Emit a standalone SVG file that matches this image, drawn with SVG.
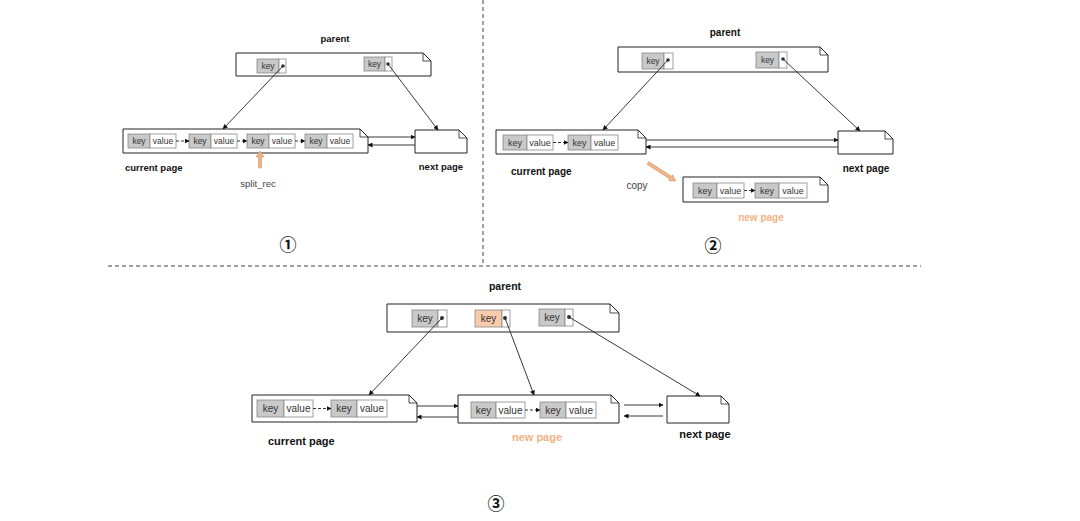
<svg xmlns="http://www.w3.org/2000/svg" width="1080" height="521" viewBox="0 0 1080 521">
<defs>
<marker id="ah" viewBox="0 0 10 10" refX="9" refY="5" markerWidth="5" markerHeight="5" markerUnits="userSpaceOnUse" orient="auto"><path d="M0,0 L10,5 L0,10 Z" fill="#111"/></marker>
<style>
.pg{fill:#fff;stroke:#222;stroke-width:1}
.fold{fill:none;stroke:#222;stroke-width:0.8}
.k{fill:#c9c9c9;stroke:#888;stroke-width:0.8}
.ko{fill:#f8cbad;stroke:#888;stroke-width:0.8}
.v{fill:#fff;stroke:#888;stroke-width:0.8}
.t{font-family:"Liberation Sans",Arial,sans-serif;fill:#333;text-anchor:middle;dominant-baseline:central}
.b{font-family:"Liberation Sans",Arial,sans-serif;font-weight:bold;fill:#111;dominant-baseline:central}
.orange{fill:#f4b183}
.gray{fill:#444}
.c{stroke:#222;stroke-width:0.9;fill:none;marker-end:url(#ah)}
.d{stroke:#222;stroke-width:0.9;fill:none;stroke-dasharray:3,2;marker-end:url(#ah)}
.dot{fill:#333}
.sep{stroke:#444;stroke-width:1;stroke-dasharray:4,3;fill:none}
.or{fill:#f4b183;stroke:#c99a78;stroke-width:0.6}
.num{font-family:"Noto Sans CJK SC","DejaVu Sans",sans-serif;font-size:17px;font-weight:bold;fill:#111;text-anchor:middle;dominant-baseline:central}
</style>
</defs>
<rect width="1080" height="521" fill="#fff"/>
<path class="sep" d="M483,0 V266"/>
<path class="sep" d="M108,266 H921"/>

<!-- Panel 1 -->
<g id="p1-parent">
<path class="pg" d="M236,53 H423 L431,61 V76 H236 Z"/><path class="fold" d="M423,53 V61 H431"/>
<rect class="k" x="257" y="59" width="22" height="14"/><rect class="v" x="279" y="59" width="7" height="14"/>
<text class="t" x="268" y="66" font-size="8.5">key</text><circle class="dot" cx="283" cy="66" r="1.8"/>
<rect class="k" x="364" y="57" width="21" height="14"/><rect class="v" x="385" y="57" width="7" height="14"/>
<text class="t" x="374.5" y="64" font-size="8.5">key</text><circle class="dot" cx="388" cy="64" r="1.8"/>
<text class="b" x="335" y="38" font-size="9.5" text-anchor="middle">parent</text>
</g>
<g id="p1-current">
<path class="pg" d="M123,129 H360 L368,137 V153 H123 Z"/><path class="fold" d="M360,129 V137 H368"/>
<rect class="k" x="128" y="134" width="22" height="14"/><rect class="v" x="150" y="134" width="26" height="14"/>
<text class="t" x="139" y="141" font-size="8.5">key</text><text class="t" x="163" y="141" font-size="8.5">value</text>
<rect class="k" x="189" y="134" width="22" height="14"/><rect class="v" x="211" y="134" width="26" height="14"/>
<text class="t" x="200" y="141" font-size="8.5">key</text><text class="t" x="224" y="141" font-size="8.5">value</text>
<rect class="k" x="247" y="134" width="22" height="14"/><rect class="v" x="269" y="134" width="26" height="14"/>
<text class="t" x="258" y="141" font-size="8.5">key</text><text class="t" x="282" y="141" font-size="8.5">value</text>
<rect class="k" x="305" y="134" width="22" height="14"/><rect class="v" x="327" y="134" width="26" height="14"/>
<text class="t" x="316" y="141" font-size="8.5">key</text><text class="t" x="340" y="141" font-size="8.5">value</text>
<text class="b" x="125" y="167" font-size="9.5">current page</text>
</g>
<g id="p1-next">
<path class="pg" d="M415,130 H459 L467,138 V153 H415 Z"/><path class="fold" d="M459,130 V138 H467"/>
<text class="b" x="441" y="166" font-size="9.5" text-anchor="middle">next page</text>
</g>
<g id="p1-split">
<path class="or" d="M258.5,168 V157 H256 L260,151 L264,157 H261.5 V168 Z"/>
<text class="t gray" x="258" y="183" font-size="9.5">split_rec</text>
</g>
<text class="num" x="288" y="243">①</text>

<!-- Panel 2 -->
<g id="p2-parent">
<path class="pg" d="M618,47 H820 L828,55 V72 H618 Z"/><path class="fold" d="M820,47 V55 H828"/>
<rect class="k" x="642" y="53" width="22" height="16"/><rect class="v" x="664" y="53" width="9" height="16"/>
<text class="t" x="653" y="61" font-size="8.5">key</text><circle class="dot" cx="668" cy="60" r="1.8"/>
<rect class="k" x="756" y="52" width="23" height="16"/><rect class="v" x="779" y="52" width="8" height="16"/>
<text class="t" x="767.5" y="60" font-size="8.5">key</text><circle class="dot" cx="783" cy="59" r="1.8"/>
<text class="b" x="725" y="32" font-size="10" text-anchor="middle">parent</text>
</g>
<g id="p2-current">
<path class="pg" d="M496,130 H638 L646,138 V154 H496 Z"/><path class="fold" d="M638,130 V138 H646"/>
<rect class="k" x="503" y="135" width="24" height="15"/><rect class="v" x="527" y="135" width="26" height="15"/>
<text class="t" x="515" y="142.5" font-size="9">key</text><text class="t" x="540" y="142.5" font-size="9">value</text>
<rect class="k" x="568" y="135" width="23" height="15"/><rect class="v" x="591" y="135" width="27" height="15"/>
<text class="t" x="579.5" y="142.5" font-size="9">key</text><text class="t" x="604.5" y="142.5" font-size="9">value</text>
<text class="b" x="511" y="171" font-size="10">current page</text>
</g>
<g id="p2-next">
<path class="pg" d="M838,131 H885 L893,139 V154 H838 Z"/><path class="fold" d="M885,131 V139 H893"/>
<text class="b" x="866" y="168" font-size="10" text-anchor="middle">next page</text>
</g>
<g id="p2-new">
<path class="pg" d="M683,177 H820 L828,185 V202 H683 Z"/><path class="fold" d="M820,177 V185 H828"/>
<rect class="k" x="693" y="183" width="24" height="15"/><rect class="v" x="717" y="183" width="27" height="15"/>
<text class="t" x="705" y="190.5" font-size="9">key</text><text class="t" x="730.5" y="190.5" font-size="9">value</text>
<rect class="k" x="755" y="183" width="24" height="15"/><rect class="v" x="779" y="183" width="28" height="15"/>
<text class="t" x="767" y="190.5" font-size="9">key</text><text class="t" x="793" y="190.5" font-size="9">value</text>
<text class="b orange" x="761" y="217" font-size="10" text-anchor="middle">new page</text>
</g>
<g id="p2-copy">
<path class="or" transform="translate(648,163) rotate(33)" d="M0,-1.6 H27 V-3.5 L33,0 L27,3.5 V1.6 H0 Z"/>
<text class="t gray" x="637" y="185" font-size="10">copy</text>
</g>
<text class="num" x="713" y="244">②</text>

<!-- Panel 3 -->
<g id="p3-parent">
<path class="pg" d="M387,304 H610 L619,313 V332 H387 Z"/><path class="fold" d="M610,304 V313 H619"/>
<rect class="k" x="412" y="310" width="26" height="17"/><rect class="v" x="438" y="310" width="9" height="17"/>
<text class="t" x="425" y="318.5" font-size="10">key</text><circle class="dot" cx="442" cy="318" r="2"/>
<rect class="ko" x="475" y="310" width="27" height="17"/><rect class="v" x="502" y="310" width="8" height="17"/>
<text class="t" x="488.5" y="318.5" font-size="10">key</text><circle class="dot" cx="505" cy="318" r="2"/>
<rect class="k" x="539" y="309" width="26" height="17"/><rect class="v" x="565" y="309" width="8" height="17"/>
<text class="t" x="552" y="317.5" font-size="10">key</text><circle class="dot" cx="569" cy="317" r="2"/>
<text class="b" x="505" y="286" font-size="10.5" text-anchor="middle">parent</text>
</g>
<g id="p3-current">
<path class="pg" d="M252,395 H409 L417,403 V422 H252 Z"/><path class="fold" d="M409,395 V403 H417"/>
<rect class="k" x="257" y="400" width="27" height="17"/><rect class="v" x="284" y="400" width="29" height="17"/>
<text class="t" x="270.5" y="408.5" font-size="10">key</text><text class="t" x="298.5" y="408.5" font-size="10">value</text>
<rect class="k" x="331" y="400" width="26" height="17"/><rect class="v" x="357" y="400" width="30" height="17"/>
<text class="t" x="344" y="408.5" font-size="10">key</text><text class="t" x="372" y="408.5" font-size="10">value</text>
<text class="b" x="268" y="441" font-size="11">current page</text>
</g>
<g id="p3-new">
<path class="pg" d="M458,395 H611 L619,403 V423 H458 Z"/><path class="fold" d="M611,395 V403 H619"/>
<rect class="k" x="471" y="402" width="25" height="16"/><rect class="v" x="496" y="402" width="29" height="16"/>
<text class="t" x="483.5" y="410" font-size="10">key</text><text class="t" x="510.5" y="410" font-size="10">value</text>
<rect class="k" x="540" y="402" width="26" height="16"/><rect class="v" x="566" y="402" width="30" height="16"/>
<text class="t" x="553" y="410" font-size="10">key</text><text class="t" x="581" y="410" font-size="10">value</text>
<text class="b orange" x="537" y="437" font-size="11" text-anchor="middle">new page</text>
</g>
<g id="p3-next">
<path class="pg" d="M667,396 H721 L729,404 V423 H667 Z"/><path class="fold" d="M721,396 V404 H729"/>
<text class="b" x="705" y="434" font-size="11" text-anchor="middle">next page</text>
</g>
<text class="num" x="496" y="502">③</text>

<g id="connectors">
<line class="c" x1="283" y1="66" x2="223" y2="129"/>
<line class="c" x1="388" y1="64" x2="438" y2="130"/>
<line class="d" x1="176" y1="141" x2="189" y2="141"/>
<line class="d" x1="237" y1="141" x2="247" y2="141"/>
<line class="d" x1="295" y1="141" x2="305" y2="141"/>
<line class="c" x1="368" y1="137" x2="415" y2="137"/>
<line class="c" x1="415" y1="145" x2="368" y2="145"/>
<line class="c" x1="668" y1="60" x2="603" y2="130"/>
<line class="c" x1="783" y1="59" x2="860" y2="131"/>
<line class="d" x1="553" y1="142.5" x2="568" y2="142.5"/>
<line class="d" x1="744" y1="190.5" x2="755" y2="190.5"/>
<line class="c" x1="646" y1="140" x2="838" y2="140"/>
<line class="c" x1="838" y1="147" x2="646" y2="147"/>
<line class="c" x1="442" y1="318" x2="369" y2="395"/>
<line class="c" x1="505" y1="318" x2="534" y2="395"/>
<line class="c" x1="569" y1="317" x2="700" y2="396"/>
<line class="d" x1="313" y1="408.5" x2="331" y2="408.5"/>
<line class="d" x1="525" y1="410" x2="540" y2="410"/>
<line class="c" x1="417" y1="406" x2="458" y2="406"/>
<line class="c" x1="458" y1="417" x2="417" y2="417"/>
<line class="c" x1="624" y1="405" x2="663" y2="405"/>
<line class="c" x1="663" y1="416" x2="624" y2="416"/>
</g>
</svg>
